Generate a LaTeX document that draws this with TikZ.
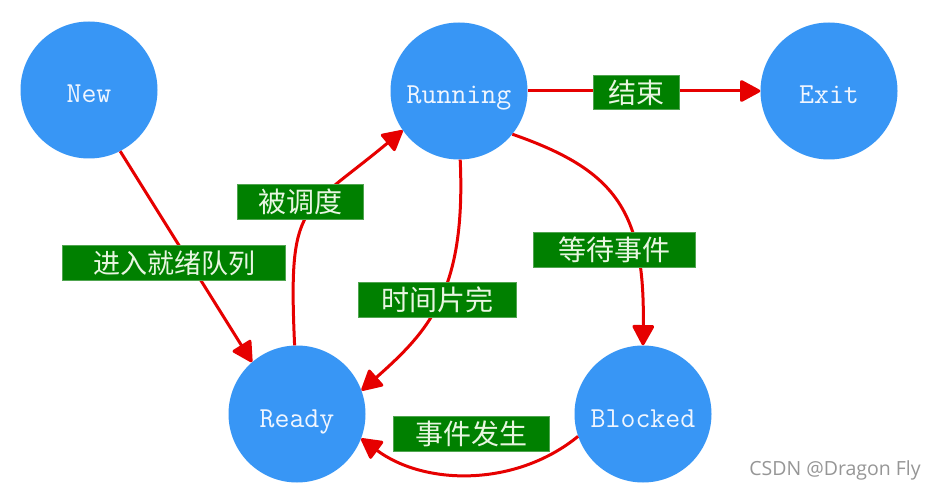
\documentclass[tikz,border=0pt]{standalone}
\usepackage{fontspec}
\newfontfamily\cjk{Noto Sans CJK SC}
\newfontfamily\wmfont{Open Sans}
\usetikzlibrary{arrows.meta}
\definecolor{nodeblue}{RGB}{56,150,245}
\definecolor{nodetext}{RGB}{240,246,255}
\definecolor{edgered}{RGB}{230,0,0}
\definecolor{boxgreen}{RGB}{0,128,0}
\definecolor{boxedge}{RGB}{80,165,80}
\definecolor{boxtext}{RGB}{232,246,225}
\definecolor{wmgray}{RGB}{150,150,150}
\begin{document}
\begin{tikzpicture}[x=1pt,y=-1pt,
  state/.style={circle, fill=nodeblue, minimum size=137pt, inner sep=0pt,
    text=nodetext, font=\fontsize{29}{29}\selectfont\ttfamily,
    text height=26pt, text depth=0pt},
  trans/.style={draw=edgered, line width=3pt,
    -{Triangle[length=22pt,width=23pt,round]}},
  lbl/.style={fill=boxgreen, draw=boxedge, line width=0.8pt, text=boxtext,
    font=\fontsize{28}{30}\selectfont\cjk, minimum height=34.6pt, inner sep=0pt},
  wm/.style={text=wmgray, font=\fontsize{19.5}{20}\selectfont\wmfont}
]
\fill[white] (0,0) rectangle (935,492);
\useasboundingbox (0,0) rectangle (935,492);

% states
\node[state] (New)     at (89,90)   {New};
\node[state] (Running) at (459,91)  {Running};
\node[state] (Exit)    at (829,91)  {Exit};
\node[state] (Ready)   at (297,414) {Ready};
\node[state] (Blocked) at (643,414) {Blocked};

% transitions
\draw[trans] (New.-63) -- (Ready.131);
\draw[trans] (Ready.92) .. controls (288,200) and (301,215) .. (Running.215);
\draw[trans] (Running.-89) .. controls (466,290) and (430,330) .. (Ready.20);
\draw[trans] (Running.-39.5) .. controls (615,170) and (645,210) .. (Blocked.90);
\draw[trans] (Blocked.199) .. controls (516,487) and (425,486) .. (Ready.-21);
\draw[trans] (Running.east) -- (Exit.west);

% labels
\node[lbl, minimum width=223pt, font=\fontsize{27}{30}\selectfont\cjk] (lEnter) at (174,263) {进入就绪队列};
\node[lbl, minimum width=126pt] (lSched) at (300,202) {被调度};
\node[lbl, minimum width=158pt] (lSlice) at (437,300) {时间片完};
\node[lbl, minimum width=162pt] (lWait)  at (614,250) {等待事件};
\node[lbl, minimum width=86pt]  (lEnd)   at (636,92.5) {结束};
\node[lbl, minimum width=156pt] (lEvent) at (471,434) {事件发生};

% watermark
\node[wm] (mark) at (835,470) {CSDN @Dragon Fly};
\end{tikzpicture}
\end{document}
